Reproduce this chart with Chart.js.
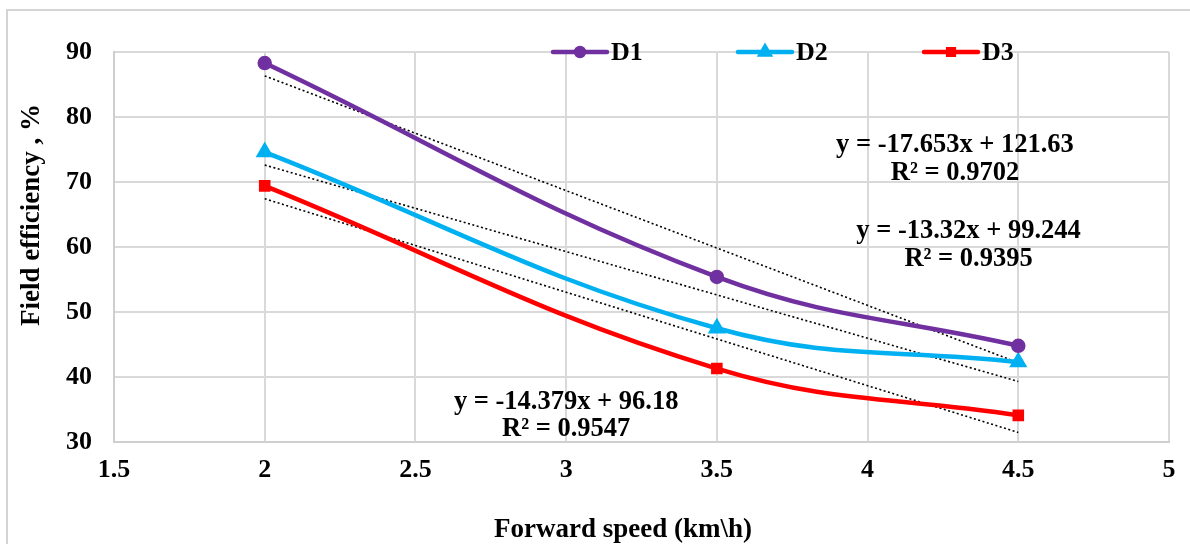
<!DOCTYPE html>
<html>
<head>
<meta charset="utf-8">
<script src="https://cdn.jsdelivr.net/npm/chart.js"></script>
<style>
	html, body { margin: 0; padding: 0; background: #fff; }
	#wrap { width: 1190px; height: 544px; }
</style>
</head>
<body>
<div id="wrap"><canvas id="chart" width="1190" height="544"></canvas></div>
<script>
// forward speed (km/h) and field efficiency (%) for each treatment
const speeds = [2, 3.5, 4.5];
const seriesNames = ['D1', 'D2', 'D3'];
const d1 = [88.3, 55.4, 44.8];
const d2 = [74.6, 47.5, 42.3];
const d3 = [69.4, 41.3, 34.1];

// linear trendlines as printed on the chart
const slopes = [-17.653, -13.32, -14.379];
const intercepts = [121.63, 99.244, 96.18];
const r2 = ['0.9702', '0.9395', '0.9547'];

const xTicks = [1.5, 2, 2.5, 3, 3.5, 4, 4.5, 5];
const yTicks = [30, 40, 50, 60, 70, 80, 90];

const colors = ['#7030a0', '#00b0f0', '#ff0000'];
const markers = ['circle', 'triangle', 'rect'];
const markerSize = [5, 6, 5];

// where the equation boxes sit (axis units)
const eqPos = [[4.29, 75.7, 71.4], [4.335, 62.4, 58.1], [3.0, 36.2, 31.9]];

const FONT = '"Liberation Serif", "Times New Roman", serif';

const allSeries = [d1, d2, d3];
const datasets = [];
allSeries.forEach((vals, i) => {
	datasets.push({
		label: seriesNames[i],
		data: speeds.map((x, j) => ({ x: x, y: vals[j] })),
		borderColor: colors[i],
		backgroundColor: colors[i],
		borderWidth: 4.5,
		pointStyle: markers[i],
		pointRadius: markerSize[i],
		pointHoverRadius: markerSize[i],
		tension: 0.4,
		order: 1
	});
});
allSeries.forEach((vals, i) => {
	const x0 = speeds[0], x1 = speeds[speeds.length - 1];
	datasets.push({
		label: 'trend ' + seriesNames[i],
		data: [{ x: x0, y: slopes[i] * x0 + intercepts[i] }, { x: x1, y: slopes[i] * x1 + intercepts[i] }],
		borderColor: '#000',
		borderWidth: 1.6,
		borderDash: [2, 2.5],
		pointRadius: 0,
		tension: 0,
		order: 2
	});
});

const decor = {
	id: 'decor',
	beforeDraw(chart) {
		const ctx = chart.ctx;
		ctx.save();
		ctx.strokeStyle = '#d4d4d4';
		ctx.lineWidth = 2;
		ctx.strokeRect(7, 10, 1400, 800);
		ctx.restore();
	},
	afterDraw(chart) {
		const ctx = chart.ctx;
		const xs = chart.scales.x, ys = chart.scales.y;
		ctx.save();
		ctx.fillStyle = '#000';
		ctx.textAlign = 'center';
		ctx.textBaseline = 'middle';

		// axis titles
		ctx.font = 'bold 27px ' + FONT;
		ctx.fillText('Forward speed (km\\h)', 623, 530);
		ctx.save();
		ctx.translate(32, 215);
		ctx.rotate(-Math.PI / 2);
		ctx.fillText('Field efficiency , %', 0, 0);
		ctx.restore();

		// trendline equations
		ctx.font = 'bold 26.5px ' + FONT;
		eqPos.forEach((p, i) => {
			const px = xs.getPixelForValue(p[0]);
			const sign = intercepts[i] < 0 ? '-' : '+';
			ctx.fillText('y = ' + slopes[i] + 'x ' + sign + ' ' + Math.abs(intercepts[i]), px, ys.getPixelForValue(p[1]));
			ctx.fillText('R\u00b2 = ' + r2[i], px, ys.getPixelForValue(p[2]));
		});

		// legend
		const legendX = [553, 738, 924];
		const ly = ys.getPixelForValue(90);
		ctx.textAlign = 'left';
		ctx.font = 'bold 26px ' + FONT;
		seriesNames.forEach((name, i) => {
			const x0 = legendX[i];
			ctx.strokeStyle = colors[i];
			ctx.lineWidth = 4.5;
			ctx.lineCap = 'round';
			ctx.beginPath();
			ctx.moveTo(x0, ly);
			ctx.lineTo(x0 + 54, ly);
			ctx.stroke();
			Chart.helpers.drawPoint(ctx, { pointStyle: markers[i], radius: markerSize[i] - 1, borderWidth: 1 }, x0 + 27, ly);
			ctx.fillStyle = colors[i];
			ctx.fill();
			ctx.fillStyle = '#000';
			ctx.fillText(name, x0 + 58, ly + 1);
		});
		ctx.restore();
	}
};

new Chart(document.getElementById('chart'), {
	type: 'line',
	data: { datasets: datasets },
	options: {
		responsive: false,
		animation: false,
		layout: { padding: { top: 52, right: 21, left: 0, bottom: 0 } },
		plugins: { legend: { display: false }, tooltip: { enabled: false } },
		scales: {
			x: {
				type: 'linear',
				min: xTicks[0],
				max: xTicks[xTicks.length - 1],
				afterBuildTicks: (s) => { s.ticks = xTicks.map(v => ({ value: v })); },
				afterFit: (s) => { s.height = 102; },
				grid: { color: '#d9d9d9', lineWidth: 2, drawTicks: false },
				border: { color: '#cfcfcf', width: 2 },
				ticks: {
					color: '#000', padding: 13,
					font: { family: FONT, size: 26, weight: 'bold' },
					callback: (v) => String(v)
				}
			},
			y: {
				min: yTicks[0],
				max: yTicks[yTicks.length - 1],
				afterBuildTicks: (s) => { s.ticks = yTicks.map(v => ({ value: v })); },
				afterFit: (s) => { s.width = 114; },
				grid: { color: '#d9d9d9', lineWidth: 2, drawTicks: false },
				border: { color: '#cfcfcf', width: 2 },
				ticks: {
					color: '#000', padding: 22,
					font: { family: FONT, size: 26, weight: 'bold' },
					callback: (v) => String(v)
				}
			}
		}
	},
	plugins: [decor]
});
</script>
</body>
</html>
